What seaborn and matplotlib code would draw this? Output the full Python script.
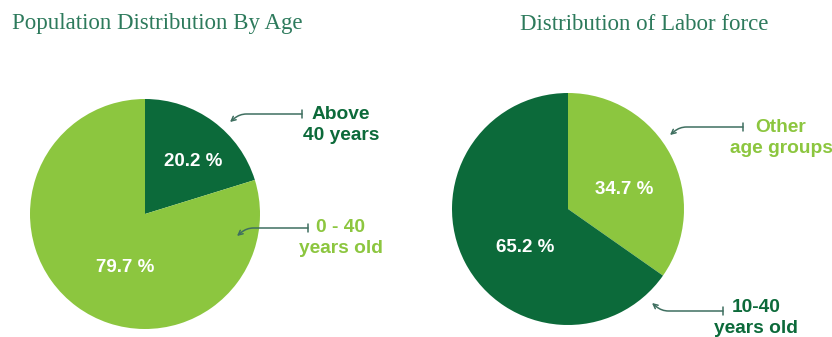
import matplotlib
matplotlib.use("Agg")
import matplotlib.pyplot as plt
import seaborn as sns

# Data
age_groups = ["Above 40 years", "0 - 40 years old"]
age_shares = [20.2, 79.7]
labor_groups = ["Other age groups", "10-40 years old"]
labor_shares = [34.7, 65.2]

DARK = "#0c6a3a"
LIGHT = "#8cc63f"
TITLE = "#2d7a5c"
LEADER = "#3f6f60"

sns.set_theme(style="white")
plt.rcParams["font.family"] = ["Liberation Sans", "DejaVu Sans"]

W, H = 832, 337
fig = plt.figure(figsize=(W / 100, H / 100), dpi=100)
ax = fig.add_axes([0, 0, 1, 1])
ax.set_xlim(0, W)
ax.set_ylim(0, H)
ax.set_aspect("equal")
ax.axis("off")


def Y(y):
    return H - y


# Pies
ax.pie(age_shares, colors=[DARK, LIGHT], startangle=90, counterclock=False,
       center=(145, Y(214)), radius=115, wedgeprops=dict(linewidth=0))
ax.pie(labor_shares, colors=[LIGHT, DARK], startangle=90, counterclock=False,
       center=(568, Y(209)), radius=116, wedgeprops=dict(linewidth=0))
ax.set_xlim(0, W)
ax.set_ylim(0, H)

# Percentage labels
pct_style = dict(color="white", fontsize=13.5, fontweight="bold",
                 ha="center", va="center")
ax.text(193, Y(162), f"{age_shares[0]} %", **pct_style)
ax.text(125, Y(268), f"{age_shares[1]} %", **pct_style)
ax.text(624, Y(189), f"{labor_shares[0]} %", **pct_style)
ax.text(525, Y(248), f"{labor_shares[1]} %", **pct_style)

# Titles
title_style = dict(color=TITLE, fontsize=16.5, family=["Liberation Serif", "DejaVu Serif"],
                   va="center")
ax.text(12, Y(24), "Population Distribution By Age", ha="left", **title_style)
ax.text(644, Y(24), "Distribution of Labor force", ha="center", **title_style)

# Callouts
label_style = dict(fontsize=13.8, fontweight="bold", ha="center", va="center",
                   linespacing=1.25, multialignment="center")


def callout(text, color, tx, ty, bar, target, angleB):
    ax.text(tx, Y(ty), text, color=color, **label_style)
    ax.annotate("", xy=(target[0], Y(target[1])), xytext=(bar[0], Y(bar[1])),
                arrowprops=dict(arrowstyle="]->, widthA=0.4, lengthA=0, angleA=0",
                                mutation_scale=8,
                                color=LEADER, lw=1.1,
                                connectionstyle=f"angle,angleA=0,angleB={angleB},rad=7",
                                shrinkA=0, shrinkB=0))


callout("Above\n40 years", DARK, 341, 125, (302, 114), (230, 122), 40)
callout("0 - 40\nyears old", LIGHT, 341, 238, (308, 228), (237, 236), 40)
callout("Other\nage groups", LIGHT, 781, 138, (743, 127), (670, 135), 40)
callout("10-40\nyears old", DARK, 756, 318, (723, 311), (652, 303), -40)

fig.savefig("out.png", dpi=100)
